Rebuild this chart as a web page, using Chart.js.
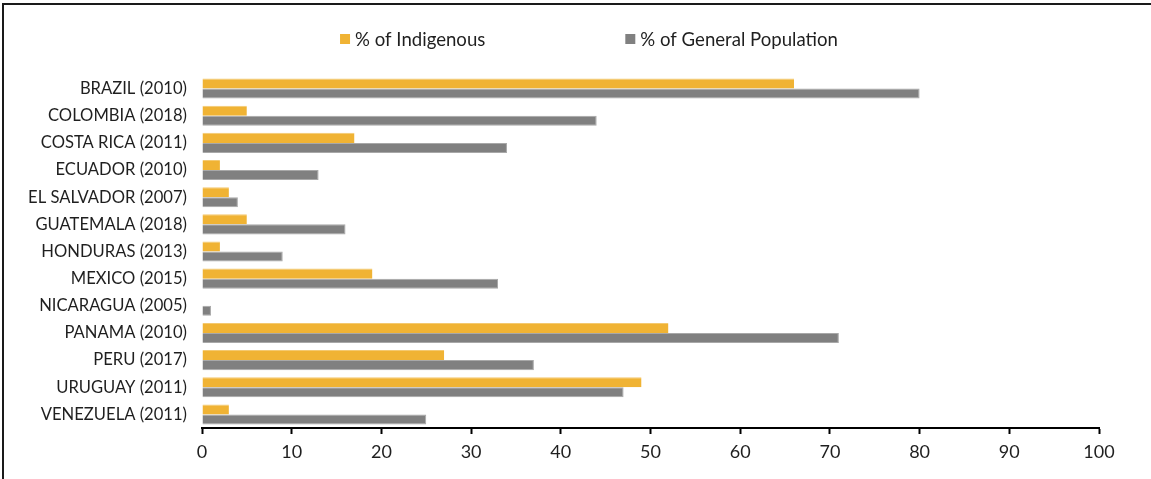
<!DOCTYPE html>
<html>
<head>
<meta charset="utf-8">
<script src="https://cdn.jsdelivr.net/npm/chart.js@4.4.1/dist/chart.umd.min.js"></script>
<style>
  html, body { margin: 0; padding: 0; background: #fff; }
  #wrap { position: relative; width: 1151px; height: 479px; overflow: hidden; }
  #frame { position: absolute; left: 2px; top: 3px; right: -10px; bottom: -10px;
           border-top: 2px solid #1a1a1a; border-left: 2px solid #1a1a1a; pointer-events: none; }
  canvas { position: absolute; left: 0; top: 0; }
</style>
</head>
<body>
<div id="wrap">
  <canvas id="c" width="1151" height="479"></canvas>
  <div id="frame"></div>
</div>
<script>
const categories = [
  "BRAZIL (2010)", "COLOMBIA (2018)", "COSTA RICA (2011)", "ECUADOR (2010)",
  "EL SALVADOR (2007)", "GUATEMALA (2018)", "HONDURAS (2013)", "MEXICO (2015)",
  "NICARAGUA (2005)", "PANAMA (2010)", "PERU (2017)", "URUGUAY (2011)", "VENEZUELA (2011)"
];
const indigenous = [66, 5, 17, 2, 3, 5, 2, 19, null, 52, 27, 49, 3];
const generalPopulation = [80, 44, 34, 13, 4, 16, 9, 33, 1, 71, 37, 47, 25];
const seriesNames = ["% of Indigenous", "% of General Population"];
const xTicks = [0, 10, 20, 30, 40, 50, 60, 70, 80, 90, 100];

const FONT = "Lato, 'Open Sans', sans-serif";
const TEXT = "#1f1f1f";

const customLegend = {
  id: 'customLegend',
  afterDraw(chart) {
    const ctx = chart.ctx;
    ctx.save();
    ctx.font = "18.6px " + FONT;
    ctx.textBaseline = 'middle';
    ctx.textAlign = 'left';
    const box = 10, gap = 5, between = 140;
    const items = chart.data.datasets.map(ds => ({
      label: ds.label, color: ds.backgroundColor, w: ctx.measureText(ds.label).width
    }));
    let total = 0;
    items.forEach((it, i) => { total += box + gap + it.w + (i ? between : 0); });
    let x = 589 - total / 2;
    const y = 39;
    items.forEach((it, i) => {
      if (i) x += between;
      ctx.fillStyle = it.color;
      ctx.fillRect(x, y - box / 2, box, box);
      x += box + gap;
      ctx.fillStyle = TEXT;
      ctx.fillText(it.label, x, y + 1);
      x += it.w;
    });
    ctx.restore();
  }
};

new Chart(document.getElementById('c'), {
  type: 'bar',
  data: {
    labels: categories,
    datasets: [
      { label: seriesNames[0], data: indigenous, backgroundColor: '#F0B334',
        borderColor: '#F4C970', borderWidth: {top: 1, right: 0, bottom: 0, left: 0}, borderSkipped: false },
      { label: seriesNames[1], data: generalPopulation, backgroundColor: '#808080',
        borderColor: '#A8A8A8', borderWidth: 1, borderSkipped: 'start' }
    ]
  },
  options: {
    indexAxis: 'y',
    responsive: false,
    animation: false,
    devicePixelRatio: 1,
    layout: { padding: { top: 75, right: 52, left: 0, bottom: 0 } },
    datasets: { bar: { categoryPercentage: 0.74, barPercentage: 1.0 } },
    plugins: { legend: { display: false }, tooltip: { enabled: false } },
    scales: {
      x: {
        min: 0, max: 100,
        afterBuildTicks(scale) { scale.ticks = xTicks.map(v => ({ value: v })); },
        afterFit(scale) { scale.height = 51; },
        grid: { display: true, drawOnChartArea: false, drawTicks: true, tickLength: 6,
                tickColor: '#000', tickWidth: 2, color: '#000' },
        border: { display: true, color: '#000', width: 2 },
        ticks: { color: TEXT, font: { family: FONT, size: 18 }, padding: 7, maxRotation: 0 }
      },
      y: {
        afterFit(scale) { scale.width = 202; },
        grid: { display: false },
        border: { display: false },
        ticks: { color: TEXT, font: { family: FONT, size: 16.6 }, padding: 7, autoSkip: false }
      }
    }
  },
  plugins: [customLegend]
});
</script>
</body>
</html>
